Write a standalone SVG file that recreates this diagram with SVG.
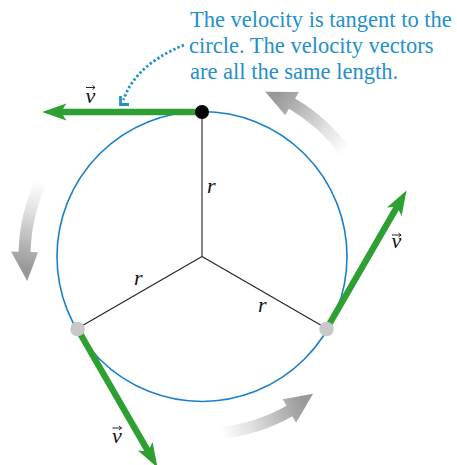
<svg xmlns="http://www.w3.org/2000/svg" xmlns:xlink="http://www.w3.org/1999/xlink" width="457" height="465" viewBox="0 0 457 465">
<style>
.cap{font-family:"Liberation Serif","Times New Roman",serif;font-size:22.5px;fill:#2390cc}
.sym{font-family:"Liberation Serif","Times New Roman",serif;font-style:italic;font-size:22px;fill:#111}
.rad{stroke:#222;stroke-width:1.1;fill:none}
.vel{fill:#2ea032}
.vec{stroke:#111;stroke-width:0.9;fill:none}
.dot{stroke:#2390cc;stroke-width:2.8;fill:none}
</style>
<defs>
<linearGradient id="fade" gradientUnits="userSpaceOnUse" x1="221" y1="433" x2="305" y2="403">
<stop offset="0" stop-color="#ffffff"/>
<stop offset="0.35" stop-color="#e0e0e0"/>
<stop offset="0.75" stop-color="#b2b2b2"/>
<stop offset="1" stop-color="#989898"/>
</linearGradient>
<path id="motion" fill="url(#fade)" d="M221.18 438.99 A183.5 183.5 0 0 0 292.36 416.21 L296.05 422.74 L313.08 393.67 L282.76 399.24 L286.45 405.77 A171.5 171.5 0 0 1 219.93 427.06 Z"/>
<path id="varrow" d="M0 -3.2 L139 -3.2 L135.5 -8.5 L160 0 L135.5 8.5 L139 3.2 L0 3.2 Z"/>
<path id="vbar" d="M0 0 H9 M6.5 -2 L9 0 L6.5 2"/>
</defs>

<g id="motion-arrows">
<use xlink:href="#motion"/>
<use xlink:href="#motion" transform="rotate(-120 202 256.5)"/>
<use xlink:href="#motion" transform="rotate(121 202 256.5)"/>
</g>

<g id="circle">
<circle cx="202" cy="256.5" r="145" fill="none" stroke="#1a80cc" stroke-width="1.6"/>
</g>

<g id="connectors">
<line class="rad" x1="202" y1="256.5" x2="202" y2="112"/>
<line class="rad" x1="202" y1="256.5" x2="76.5" y2="329"/>
<line class="rad" x1="202" y1="256.5" x2="327.5" y2="329"/>
<path class="dot" stroke-dasharray="2.4 2.2" d="M184 45 Q135 65 123.5 100"/>
<path class="dot" stroke-linejoin="miter" d="M120.5 96 L120.5 104.5 L129 104.5"/>
</g>

<g id="velocity-top">
<use xlink:href="#varrow" class="vel" transform="translate(202 112) rotate(180)"/>
<circle cx="202" cy="112" r="7" fill="#000"/>
<text class="sym" x="85.5" y="102.5">v</text>
<use xlink:href="#vbar" class="vec" transform="translate(86 87.5)"/>
</g>

<g id="velocity-right">
<use xlink:href="#varrow" class="vel" transform="translate(326.5 329) rotate(-60)"/>
<circle cx="326.5" cy="329" r="7.3" fill="#c8c8ca"/>
<text class="sym" x="391.5" y="248">v</text>
<use xlink:href="#vbar" class="vec" transform="translate(392 235)"/>
</g>

<g id="velocity-left">
<use xlink:href="#varrow" class="vel" transform="translate(77.5 329) rotate(60)"/>
<circle cx="77.5" cy="329" r="7.3" fill="#c8c8ca"/>
<text class="sym" x="112" y="443">v</text>
<use xlink:href="#vbar" class="vec" transform="translate(112.5 428)"/>
</g>

<g id="radius-labels">
<text class="sym" x="207" y="193">r</text>
<text class="sym" x="134" y="285">r</text>
<text class="sym" x="258" y="312">r</text>
</g>

<g id="caption">
<text class="cap" x="190" y="27">The velocity is tangent to the</text>
<text class="cap" x="189" y="53">circle. The velocity vectors</text>
<text class="cap" x="190" y="79">are all the same length.</text>
</g>
</svg>
